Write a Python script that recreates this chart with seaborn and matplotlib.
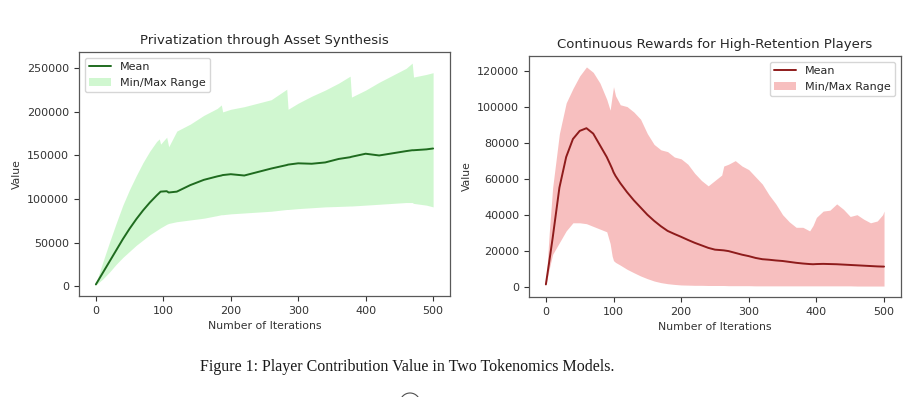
import pandas as pd
import matplotlib.pyplot as plt
import seaborn as sns
from matplotlib.patches import Circle

# Left panel: Privatization through Asset Synthesis
asset_iters = [0, 10, 20, 30, 40, 50, 60, 70, 80, 90, 94, 96, 105, 108, 120, 140, 160, 180,
               186, 188, 200, 220, 240, 260, 283, 285, 300, 320, 340, 360, 377, 379, 400,
               420, 440, 460, 469, 471, 490, 500]
asset_mean = [2000, 15000, 28000, 41000, 54000, 66000, 77000, 87000, 96000, 104000, 107000,
              108500, 109000, 107500, 108500, 116000, 122000, 126000, 127000, 127500, 128500,
              127000, 131000, 135000, 139000, 139500, 141000, 140500, 142000, 146000, 148000,
              148500, 152000, 150000, 152500, 155000, 156000, 156000, 157000, 158000]
asset_max = [3000, 27000, 50000, 72000, 93000, 111000, 127000, 142000, 155000, 166000, 169000,
             163000, 171000, 160000, 178000, 186000, 196000, 204000, 208000, 200000, 203000,
             206000, 210000, 214000, 226000, 203000, 210000, 218000, 225000, 233000, 241000,
             217000, 225000, 234000, 242000, 250000, 256000, 240000, 243000, 245000]
asset_min = [1500, 8000, 16000, 25000, 33000, 40000, 47000, 53000, 59000, 64000, 66000,
             67000, 71000, 72000, 74000, 76000, 78000, 81000, 82000, 82000, 83000, 84000,
             85000, 86000, 88000, 88000, 89000, 90000, 91000, 91500, 92000, 92000, 93000,
             94000, 95000, 96000, 96000, 95000, 93000, 91000]

# Right panel: Continuous Rewards for High-Retention Players
reward_iters = [0, 5, 10, 20, 30, 40, 50, 60, 70, 80, 90, 95, 98, 100, 103, 110, 120, 130,
                140, 150, 160, 170, 180, 190, 200, 210, 220, 230, 240, 250, 260, 263, 270,
                280, 290, 300, 310, 320, 330, 340, 350, 360, 370, 380, 390, 395, 400, 410,
                420, 430, 440, 450, 460, 470, 480, 490, 498, 500]
reward_mean = [1300, 14000, 27000, 55000, 72000, 82000, 86500, 88000, 85000, 78500, 72000,
               68000, 65500, 63600, 61500, 57500, 52500, 48000, 44000, 40000, 36600, 33600,
               31000, 29300, 27700, 26000, 24400, 23000, 21600, 20600, 20300, 20200, 19800,
               18800, 17800, 17000, 16000, 15300, 15000, 14600, 14300, 13800, 13300, 12900,
               12600, 12500, 12600, 12700, 12600, 12500, 12300, 12100, 11900, 11700, 11500,
               11300, 11200, 11200]
reward_max = [1000, 30000, 55000, 85000, 102000, 110000, 117000, 122000, 119000, 113000,
              104000, 98000, 106000, 111000, 106000, 101000, 100000, 97000, 93000, 85000,
              79000, 76000, 75000, 72000, 71000, 68000, 63000, 59000, 56000, 59000, 62000,
              67000, 68000, 70000, 67000, 65000, 61000, 57000, 51000, 46000, 40000, 36000,
              33000, 33000, 31000, 34000, 38500, 42000, 42500, 46000, 43000, 39000, 40000,
              37500, 35500, 36500, 40000, 42000]
reward_min = [1000, 10000, 18000, 24500, 31000, 35500, 35500, 35000, 33500, 32000, 30500,
              24000, 17000, 14500, 13500, 12000, 9700, 7800, 6000, 4500, 3200, 2300, 1700,
              1300, 1000, 900, 800, 800, 700, 700, 700, 700, 600, 600, 600, 600, 500, 500,
              500, 500, 500, 500, 500, 500, 500, 500, 500, 500, 500, 500, 500, 500, 400,
              400, 400, 400, 400, 400]

sns.set_style("ticks", {"axes.edgecolor": "0.35", "xtick.color": "0.2", "ytick.color": "0.2"})
plt.rcParams['font.family'] = ['DejaVu Sans']

fig = plt.figure(figsize=(9.23, 3.97), dpi=100)
ax1 = fig.add_axes([0.0856, 0.2545, 0.4019, 0.6145])
ax2 = fig.add_axes([0.5731, 0.2519, 0.4030, 0.6071])

panels = [
    (ax1, asset_iters, asset_mean, asset_min, asset_max, '#1f6b1f', 'lightgreen', 0.42,
     'Privatization through Asset Synthesis', 'upper left'),
    (ax2, reward_iters, reward_mean, reward_min, reward_max, '#8e1b1b', 'lightcoral', 0.5,
     'Continuous Rewards for High-Retention Players', 'upper right'),
]

for ax, iters, mean, lo, hi, line_c, fill_c, alpha, title, loc in panels:
    df = pd.DataFrame({'Iteration': iters, 'Mean': mean, 'Min': lo, 'Max': hi})
    sns.lineplot(data=df, x='Iteration', y='Mean', color=line_c, linewidth=1.4,
                 label='Mean', ax=ax)
    ax.fill_between(df['Iteration'], df['Min'], df['Max'], color=fill_c, alpha=alpha,
                    linewidth=0, label='Min/Max Range')
    ax.set_title(title, fontsize=9.5, color='0.15')
    ax.set_xlabel('Number of Iterations', fontsize=7.8, color='0.2')
    ax.set_ylabel('Value', fontsize=7.8, color='0.2')
    ax.set_xticks([0, 100, 200, 300, 400, 500])
    ax.tick_params(labelsize=8, length=3.5, width=0.8)
    for s in ax.spines.values():
        s.set_visible(True)
        s.set_linewidth(0.9)
    ax.legend(loc=loc, fontsize=8, frameon=True, fancybox=True, framealpha=0.8,
              edgecolor='0.8')

fig.text(0.441, 0.076, 'Figure 1: Player Contribution Value in Two Tokenomics Models.',
         ha='center', va='center', fontsize=11.5, family='Liberation Serif', color='0.1')
# partly cut-off circle at the bottom edge of the page
fig.patches.append(Circle((4.10, -0.06), 0.1, transform=fig.dpi_scale_trans,
                          fill=False, edgecolor='0.3', linewidth=0.8))

plt.savefig('out.png', dpi=100)
plt.close()
